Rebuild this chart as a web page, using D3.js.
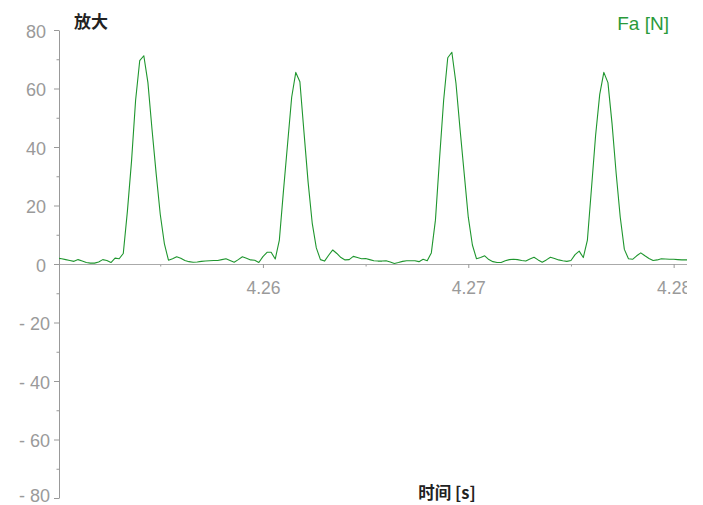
<!DOCTYPE html>
<html>
<head>
<meta charset="utf-8">
<script src="https://cdn.jsdelivr.net/npm/d3@7"></script>
<style>
    body { margin: 0; background: #fff; }
    svg { display: block; }
    .tick text { font-family: "Liberation Sans", Arial, sans-serif; }
</style>
</head>
<body>
<svg></svg>
<script>
const SVGsize = {w: 703, h: 505};
const plot = {l: 59, r: 687, t: 30, b: 498};

// sampled force, one sample every 0.2 ms starting at 4.2500 s
const t0 = 4.25;
const dt = 0.0002;
const force = [
    2.0, 1.8, 1.5, 1.2, 0.9, 1.5, 1.0, 0.5, 0.3, 0.3,
    0.7, 1.5, 1.2, 0.5, 2.0, 1.8, 3.6, 18, 35, 56,
    69.5, 71.2, 62, 46, 31, 17, 7, 1.3, 1.8, 2.5,
    2.0, 1.2, 0.8, 0.6, 0.7, 0.9, 1.0, 1.1, 1.2, 1.2,
    1.5, 1.8, 1.2, 0.6, 1.5, 2.5, 2.0, 1.4, 1.3, 0.5,
    2.5, 4.0, 4.0, 1.7, 8.2, 25, 41, 57, 65.5, 62.3,
    45, 28, 14, 5.5, 1.5, 1.0, 3.0, 4.8, 3.6, 2.2,
    1.4, 1.5, 2.6, 2.2, 1.8, 1.9, 1.5, 1.1, 1.0, 1.0,
    1.1, 0.7, 0.2, 0.5, 0.9, 1.1, 1.1, 1.1, 0.8, 1.6,
    1.1, 3.8, 15, 36, 56, 70.5, 72.4, 61.8, 46, 31,
    16, 6.5, 1.8, 2.2, 2.8, 1.5, 0.8, 0.5, 0.5, 1.1,
    1.5, 1.6, 1.5, 1.2, 1.0, 1.7, 2.3, 1.4, 0.6, 1.4,
    2.3, 1.9, 1.4, 1.1, 0.9, 1.2, 3.2, 4.4, 2.2, 8.2,
    26, 44, 58, 65.5, 62, 48, 31, 16, 5, 1.8,
    1.6, 2.8, 3.8, 2.8, 1.9, 1.2, 1.4, 1.8, 1.7, 1.6,
    1.6, 1.5, 1.4, 1.4, 1.4
];

const xTicks = [4.26, 4.27, 4.28];
const xMinorTicks = [4.255, 4.265, 4.275];
const yTicks = [-80, -60, -40, -20, 0, 20, 40, 60, 80];
const yTickLabels = ['- 80', '- 60', '- 40', '- 20', '0', '20', '40', '60', '80'];
const yMinorTicks = [-70, -50, -30, -10, 10, 30, 50, 70];

const title = '放大';
const seriesName = 'Fa [N]';
const xTitle = '时间 [s]';

const lineColor = '#1f962e';
const axisColor = '#999';
const labelColor = '#9a9a9a';

const svg = d3.select('svg')
    .attr('width', SVGsize.w)
    .attr('height', SVGsize.h);

const data = force.map((v, i) => ({t: t0 + i * dt, v: v}));

const scaleX = d3.scaleLinear()
    .domain([4.25007, 4.28065])
    .range([plot.l, plot.r]);

const scaleY = d3.scaleLinear()
    .domain([-80, 80])
    .range([plot.b, plot.t]);

svg.append('defs').append('clipPath')
    .attr('id', 'clip')
    .append('rect')
    .attr('x', plot.l)
    .attr('y', 0)
    .attr('width', plot.r - plot.l)
    .attr('height', SVGsize.h);

// x axis on the zero line, labels clipped at the plot's right edge
const axisXG = svg.append('g')
    .attr('clip-path', 'url(#clip)')
    .attr('transform', `translate(0, ${scaleY(0)})`);

axisXG.append('g')
    .call(d3.axisBottom(scaleX).tickValues(xMinorTicks).tickSize(2.5).tickFormat(''))
    .call(g => g.selectAll('line').attr('stroke', axisColor))
    .call(g => g.select('.domain').remove());

axisXG.append('g')
    .call(d3.axisBottom(scaleX).tickValues(xTicks).tickSize(4).tickSizeOuter(0).tickPadding(14).tickFormat(d3.format('.2f')))
    .call(g => g.selectAll('text').attr('font-size', 17.5).attr('fill', labelColor))
    .call(g => g.selectAll('line').attr('stroke', axisColor))
    .call(g => g.select('.domain').attr('stroke', '#aaa'));

// y axis
const axisYG = svg.append('g')
    .attr('transform', `translate(${plot.l}, 0)`);

axisYG.append('g')
    .call(d3.axisLeft(scaleY).tickValues(yMinorTicks).tickSize(2.5).tickFormat(''))
    .call(g => g.selectAll('line').attr('stroke', axisColor))
    .call(g => g.select('.domain').remove());

axisYG.append('g')
    .call(d3.axisLeft(scaleY).tickValues(yTicks).tickSize(5).tickSizeOuter(0).tickPadding(8)
        .tickFormat((d, i) => yTickLabels[i]))
    .call(g => g.selectAll('text')
        .attr('font-size', 18)
        .attr('fill', labelColor)
        .attr('dy', d => d === -80 ? '0.2em' : '0.4em')
        .attr('x', d => d < 0 ? -9 : -13))
    .call(g => g.selectAll('line').attr('stroke', axisColor))
    .call(g => g.select('.domain').attr('stroke', axisColor));

// force trace
const line = d3.line()
    .x(d => scaleX(d.t))
    .y(d => scaleY(d.v));

svg.append('path')
    .datum(data)
    .attr('clip-path', 'url(#clip)')
    .attr('fill', 'none')
    .attr('stroke', lineColor)
    .attr('stroke-width', 1.1)
    .attr('stroke-linejoin', 'round')
    .attr('d', line);

// titles
svg.append('text')
    .attr('x', 74)
    .attr('y', 28)
    .attr('font-family', '"Noto Sans CJK SC", sans-serif')
    .attr('font-weight', 'bold')
    .attr('font-size', 17)
    .attr('fill', '#222')
    .text(title);

svg.append('text')
    .attr('x', 669)
    .attr('y', 30)
    .attr('text-anchor', 'end')
    .attr('font-family', '"Liberation Sans", Arial, sans-serif')
    .attr('font-size', 19)
    .attr('fill', '#2a9a3a')
    .text(seriesName);

svg.append('text')
    .attr('x', 447)
    .attr('y', 499)
    .attr('text-anchor', 'middle')
    .attr('font-family', '"Noto Sans CJK SC", sans-serif')
    .attr('font-weight', 'bold')
    .attr('font-size', 16.5)
    .attr('fill', '#222')
    .text(xTitle);
</script>
</body>
</html>
